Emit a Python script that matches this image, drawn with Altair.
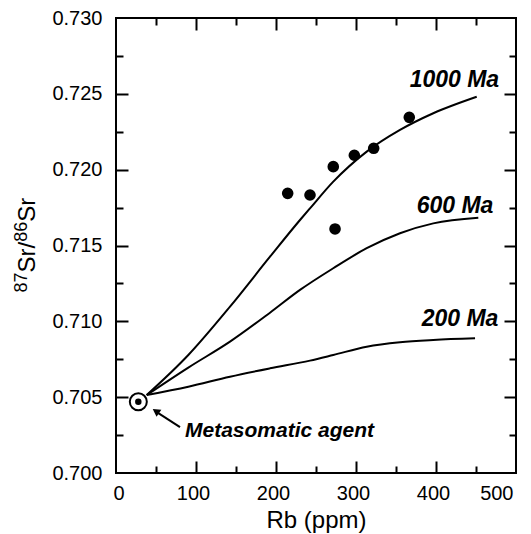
import altair as alt
import pandas as pd

# ---- data ----
rb_samples = [214.6, 242.5, 271.6, 297.9, 322.1, 366.6, 273.8]
sr_samples = [0.71844, 0.71833, 0.72020, 0.72095, 0.72141, 0.72345, 0.71609]

rb_1000 = [38.4, 90.4, 142.5, 192.5, 230.0, 242.5, 271.6, 313.4, 355.0, 396.6, 450.9]
sr_1000 = [0.70514, 0.70778, 0.71097, 0.71426, 0.71668, 0.71745, 0.71921, 0.72119, 0.72262, 0.72372, 0.72481]

rb_600 = [38.4, 90.4, 142.5, 192.5, 230.0, 271.6, 313.4, 355.0, 396.6, 452.9]
sr_600 = [0.70514, 0.70695, 0.70866, 0.71057, 0.71207, 0.71350, 0.71482, 0.71581, 0.71646, 0.71683]

rb_200 = [38.4, 90.4, 142.5, 192.5, 242.5, 271.6, 313.4, 355.0, 396.6, 448.8]
sr_200 = [0.70514, 0.70569, 0.70635, 0.70690, 0.70741, 0.70778, 0.70833, 0.70862, 0.70877, 0.70888]

agent_rb = [27.9]
agent_sr = [0.7047]

age_labels = ["1000 Ma", "600 Ma", "200 Ma"]
age_label_rb = [423.0, 423.75, 430.0]
age_label_sr = [0.72591, 0.71761, 0.71016]

x_labels = [0, 100, 200, 300, 400, 500]
y_labels = [0.700, 0.705, 0.710, 0.715, 0.720, 0.725, 0.730]
x_major = [100, 200, 300, 400]
x_minor = [50, 150, 250, 350, 450]
y_major = [0.705, 0.710, 0.715, 0.720, 0.725]
y_minor = [0.7025, 0.7075, 0.7125, 0.7175, 0.7225, 0.7275]

W, H = 400, 455
FONT = "Liberation Sans"

xs = alt.Scale(domain=[0, 500], nice=False, zero=False)
ys = alt.Scale(domain=[0.700, 0.730], nice=False, zero=False)

curves = pd.DataFrame(
    [{"rb": r, "sr": s, "age": "1000 Ma"} for r, s in zip(rb_1000, sr_1000)]
    + [{"rb": r, "sr": s, "age": "600 Ma"} for r, s in zip(rb_600, sr_600)]
    + [{"rb": r, "sr": s, "age": "200 Ma"} for r, s in zip(rb_200, sr_200)]
)
samples = pd.DataFrame({"rb": rb_samples, "sr": sr_samples})
agent = pd.DataFrame({"rb": agent_rb, "sr": agent_sr})
labels = pd.DataFrame({"rb": age_label_rb, "sr": age_label_sr, "t": age_labels})


def X(field="rb:Q", **kw):
    return alt.X(field, axis=None, **kw)


def Y(field="sr:Q", **kw):
    return alt.Y(field, axis=None, **kw)


# main layer with the labelled axes
lines = alt.Chart(curves).mark_line(color="black", strokeWidth=2, interpolate="monotone").encode(
    x=alt.X("rb:Q", scale=xs, title="Rb (ppm)",
            axis=alt.Axis(orient="bottom", values=x_labels, format="d", domain=False, ticks=False,
                          labelPadding=10, titlePadding=5, labelOffset=-3, grid=False,
                          labelFont=FONT, labelFontSize=20, labelColor="black",
                          titleFont=FONT, titleFontSize=24, titleFontWeight="normal", titleColor="black")),
    y=alt.Y("sr:Q", scale=ys, title=None,
            axis=alt.Axis(orient="left", values=y_labels, format=".3f", domain=False, ticks=False,
                          labelPadding=14, grid=False,
                          labelFont=FONT, labelFontSize=20, labelColor="black")),
    detail="age:N", order="rb:Q")


# inward ticks: extra unlabeled axes shifted into the plot by their tick length
def tick_axis(orient, vals, length):
    return alt.Axis(orient=orient, offset=-length, values=vals, tickSize=length, tickWidth=2,
                    tickColor="black", ticks=True, labels=False, domain=False, grid=False,
                    title=None, zindex=1)


def tick_layer(xo, yo, xv, yv, length):
    return alt.Chart(samples).mark_point(opacity=0, size=1).encode(
        x=alt.X("rb:Q", title=None, axis=tick_axis(xo, xv, length)),
        y=alt.Y("sr:Q", title=None, axis=tick_axis(yo, yv, length)),
    )


tk1 = tick_layer("bottom", "left", x_major, y_major, 12)
tk2 = tick_layer("bottom", "left", x_minor, y_minor, 7)
tk3 = tick_layer("top", "right", x_major, y_major, 12)
tk4 = tick_layer("top", "right", x_minor, y_minor, 7)

pts = alt.Chart(samples).mark_point(filled=True, color="black", size=135, opacity=1).encode(x=X(), y=Y())

agent_ring = alt.Chart(agent).mark_point(shape="circle", filled=False, fill="white", fillOpacity=1,
                                         stroke="black", strokeWidth=2, size=290, opacity=1).encode(x=X(), y=Y())
agent_dot = alt.Chart(agent).mark_point(filled=True, color="black", size=42, opacity=1).encode(x=X(), y=Y())

age_text = alt.Chart(labels).mark_text(font=FONT, fontSize=23, fontWeight="bold", fontStyle="italic",
                                       align="center", baseline="middle", color="black").encode(
    x=X(), y=Y(), text="t:N")

agent_text = alt.Chart(pd.DataFrame({"rb": [86.25], "sr": [0.70279], "t": ["Metasomatic agent"]})).mark_text(
    font=FONT, fontSize=21, fontWeight="bold", fontStyle="italic", align="left", baseline="middle",
    color="black").encode(x=X(), y=Y(), text="t:N")

arrow_line = alt.Chart(pd.DataFrame({"rb": [80.0], "sr": [0.70303], "rb2": [50.5], "sr2": [0.70403]})).mark_rule(
    color="black", strokeWidth=2).encode(x=X(), y=Y(), x2="rb2:Q", y2="sr2:Q")
arrow_head = alt.Chart(pd.DataFrame({"rb": [49.8], "sr": [0.70408]})).mark_point(
    shape="triangle-up", filled=True, color="black", size=75, angle=304, opacity=1).encode(x=X(), y=Y())

# y-axis title 87Sr/86Sr built from pieces (rotated 270)
title_parts = ["87", "Sr/", "86", "Sr"]
title_sizes = [18, 24, 18, 24]
title_dx = [0, 20, 50.7, 70.7]
title_dy = [-8, 0, -8, 0]
TX, TY = -81, H / 2 + 47
ytitle = []
for part, fs, dx, dy in zip(title_parts, title_sizes, title_dx, title_dy):
    ytitle.append(
        alt.Chart(pd.DataFrame({"t": [part]})).mark_text(
            font=FONT, fontSize=fs, angle=270, align="left", baseline="alphabetic",
            dx=dx, dy=dy, color="black").encode(x=alt.value(TX), y=alt.value(TY), text="t:N")
    )

layers = [lines, tk1, tk2, tk3, tk4, pts, arrow_line, arrow_head, agent_ring, agent_dot,
          age_text, agent_text] + ytitle

chart = alt.layer(*layers).resolve_axis(x="independent", y="independent").properties(
    width=W, height=H,
    autosize=alt.AutoSizeParams(type="none"),
    padding={"left": 116, "top": 18, "right": 15, "bottom": 61},
    background="white",
).configure_view(stroke="black", strokeWidth=2).configure_axis(grid=False)

chart.save("out.html", embed_options={"renderer": "svg", "actions": False})
